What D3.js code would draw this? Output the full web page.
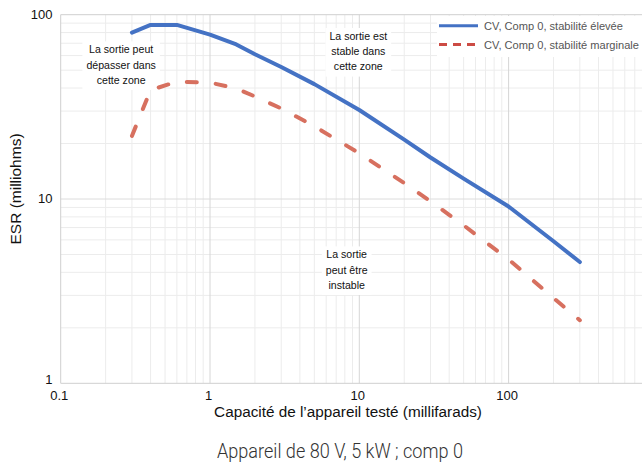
<!DOCTYPE html>
<html><head><meta charset="utf-8">
<script src="https://cdn.jsdelivr.net/npm/d3@7"></script>
<style>html,body{margin:0;padding:0;background:#fff;}svg{display:block;}</style>
</head><body>
<script>
// ---- data ----
const capacities = [0.3, 0.4, 0.6, 1, 1.5, 2, 3, 5, 10, 20, 30, 50, 100, 200, 300];
const esrHigh = [80, 88, 88, 78, 69, 61, 52, 42, 30.4, 21, 16.8, 12.9, 9.1, 5.9, 4.55];
const esrMarginal = [22, 39, 43.3, 42.8, 39.8, 36, 31, 24.8, 17.7, 12.2, 9.7, 7.2, 4.7, 2.9, 2.2];
const seriesNames = ["CV, Comp 0, stabilité élevée", "CV, Comp 0, stabilité marginale"];
const xTicks = [0.1, 1, 10, 100];
const yTicks = [1, 10, 100];
const annotations = [
  {x: 0.254, y: 61.7, lines: ["La sortie peut", "dépasser dans", "cette zone"]},
  {x: 9.85, y: 72.9, lines: ["La sortie est", "stable dans", "cette zone"]},
  {x: 8.23, y: 4.76, lines: ["La sortie", "peut être", "instable"]}
];
const xTitle = "Capacité de l’appareil testé (millifarads)";
const yTitle = "ESR (milliohms)";
const caption = "Appareil de 80 V, 5 kW ; comp 0";

const W = 642, H = 468;
const svg = d3.select("body").append("svg").attr("width", W).attr("height", H);
const x = d3.scaleLog().domain([0.1, 1000]).range([60.7, 657.9]);
const y = d3.scaleLog().domain([1, 100]).range([383.3, 14.7]);
const font = "Liberation Sans, Arial, sans-serif";

// minor grid
const xMinor = [], yMinor = [];
[0.1, 1, 10, 100].forEach(d => { for (let k = 2; k <= 9; k++) xMinor.push(d * k); });
[1, 10].forEach(d => { for (let k = 2; k <= 9; k++) yMinor.push(d * k); });
const g = svg.append("g");
g.selectAll(".xm").data(xMinor).join("line")
  .attr("x1", d => x(d)).attr("x2", d => x(d)).attr("y1", y(100)).attr("y2", y(1))
  .attr("stroke", "#ececec").attr("stroke-width", 1);
g.selectAll(".ym").data(yMinor).join("line")
  .attr("x1", x(0.1)).attr("x2", W).attr("y1", d => y(d)).attr("y2", d => y(d))
  .attr("stroke", "#ececec").attr("stroke-width", 1);
g.selectAll(".xM").data([1, 10, 100]).join("line")
  .attr("x1", d => x(d)).attr("x2", d => x(d)).attr("y1", y(100)).attr("y2", y(1))
  .attr("stroke", "#d6d6d6").attr("stroke-width", 1);
g.selectAll(".yM").data([10]).join("line")
  .attr("x1", x(0.1)).attr("x2", W).attr("y1", d => y(d)).attr("y2", d => y(d))
  .attr("stroke", "#dcdcdc").attr("stroke-width", 1);
// borders
g.append("line").attr("x1", x(0.1)).attr("x2", W).attr("y1", y(100)).attr("y2", y(100)).attr("stroke", "#cfcfcf");
g.append("line").attr("x1", x(0.1)).attr("x2", W).attr("y1", y(1)).attr("y2", y(1)).attr("stroke", "#cfcfcf");
g.append("line").attr("x1", x(0.1)).attr("x2", x(0.1)).attr("y1", y(100)).attr("y2", y(1)).attr("stroke", "#cfcfcf");

// annotations with white boxes
annotations.forEach(a => {
  const cx = x(a.x), top = y(a.y);
  const ga = svg.append("g");
  const txt = ga.selectAll("text").data(a.lines).join("text")
    .attr("x", cx).attr("y", (d, i) => top + i * 15.2)
    .attr("text-anchor", "middle").attr("font-family", font).attr("font-size", 10.6)
    .attr("fill", "#111").text(d => d);
  let maxW = 0;
  txt.each(function () { maxW = Math.max(maxW, this.getComputedTextLength()); });
  ga.insert("rect", "text").attr("x", cx - maxW / 2 - 4).attr("y", top - 12)
    .attr("width", maxW + 8).attr("height", 15.2 * a.lines.length + 3).attr("fill", "#fff");
});

// lines
const line = d3.line().x(d => x(d[0])).y(d => y(d[1]));
svg.append("path").datum(capacities.map((c, i) => [c, esrMarginal[i]]))
  .attr("d", line).attr("fill", "none").attr("stroke", "#d7705f").attr("stroke-width", 4)
  .attr("stroke-linecap", "round").attr("stroke-linejoin", "round").attr("stroke-dasharray", "10,19");
svg.append("path").datum(capacities.map((c, i) => [c, esrHigh[i]]))
  .attr("d", line).attr("fill", "none").attr("stroke", "#4472c4").attr("stroke-width", 4)
  .attr("stroke-linecap", "round").attr("stroke-linejoin", "round");

// legend
const lg = svg.append("g");
lg.append("rect").attr("x", 437).attr("y", 16).attr("width", W - 437).attr("height", 41).attr("fill", "#fff");
const legColors = ["#4472c4", "#cc4b44"];
seriesNames.forEach((n, i) => {
  const ly = 25.7 + i * 18.8;
  lg.append("line").attr("x1", 439).attr("x2", 478).attr("y1", ly).attr("y2", ly)
    .attr("stroke", legColors[i]).attr("stroke-width", 3)
    .attr("stroke-dasharray", i === 1 ? "8,6" : null);
  lg.append("text").attr("x", 484).attr("y", ly + 4).attr("font-family", font)
    .attr("font-size", 11.1).attr("fill", "#555").text(n);
});

// tick labels
svg.selectAll(".xt").data(xTicks).join("text")
  .attr("x", d => x(d) - 1.5).attr("y", 400).attr("text-anchor", "middle")
  .attr("font-family", font).attr("font-size", 13).attr("fill", "#111")
  .text(d => d3.format("")(d));
svg.selectAll(".yt").data(yTicks).join("text")
  .attr("x", 52.5).attr("y", d => d === 1 ? y(d) + 0.5 : y(d) + 4)
  .attr("text-anchor", "end").attr("font-family", font).attr("font-size", 13).attr("fill", "#111")
  .text(d => d);

// axis titles
svg.append("text").attr("x", 348).attr("y", 417).attr("text-anchor", "middle")
  .attr("font-family", font).attr("font-size", 15.3).attr("fill", "#111").text(xTitle);
svg.append("text").attr("transform", "translate(21,189) rotate(-90)").attr("text-anchor", "middle")
  .attr("font-family", font).attr("font-size", 15.5).attr("fill", "#111").text(yTitle);

// caption
svg.append("text").attr("x", 217).attr("y", 458).attr("font-family", "Roboto, sans-serif")
  .attr("font-weight", 300).attr("font-size", 21).attr("fill", "#333")
  .attr("textLength", 246).attr("lengthAdjust", "spacingAndGlyphs").text(caption);
</script>
</body></html>
